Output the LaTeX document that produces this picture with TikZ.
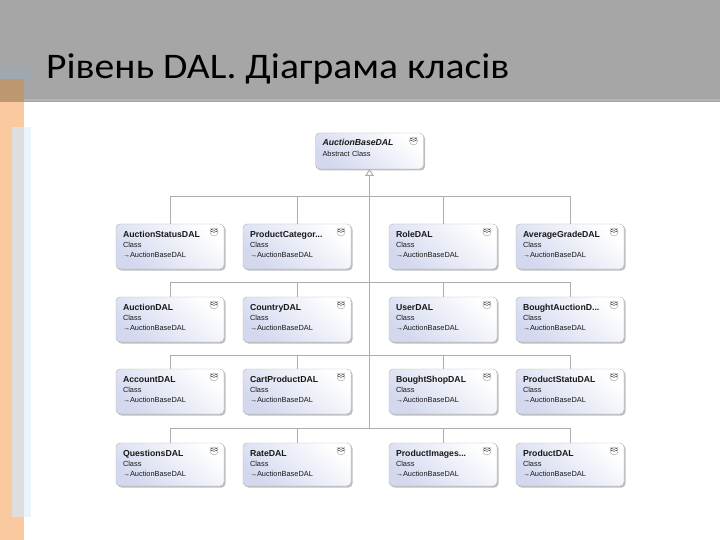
\documentclass[tikz,border=0pt]{standalone}
\usepackage{fontspec}
\setmainfont{Liberation Sans}
\newfontfamily\titlefont[FakeStretch=1.1]{Carlito}
\usetikzlibrary{positioning}
\usetikzlibrary{shadows, arrows.meta}
\definecolor{headergray}{HTML}{A6A6A6}
\definecolor{headerline}{HTML}{B4B4B4}
\definecolor{headerblue}{HTML}{A0A8AE}
\definecolor{bandorange}{HTML}{FAC9A0}
\definecolor{bandbrown}{HTML}{BC9770}
\definecolor{bandgray}{HTML}{DEDEDE}
\definecolor{bandblue}{HTML}{EAF4FB}
\definecolor{boxblue}{HTML}{D3D8EF}
\definecolor{busgray}{HTML}{ADADAD}
\newcommand{\classname}[1]{{\fontsize{8.7}{10}\selectfont\textbf{#1}}}
\newcommand{\baseref}{{\fontsize{7}{10}\selectfont→}AuctionBaseDAL}
\tikzstyle{classbox} = [draw=black!30, rounded corners=4pt, outer sep=0pt, inner xsep=7pt, inner ysep=4pt,
    text width=94pt, align=left, font=\fontsize{7.4}{10.3}\selectfont, text=black!90,
    text height=9pt, text depth=28pt,
    top color=white, bottom color=boxblue, shading angle=-40,
    drop shadow={shadow xshift=1.5pt, shadow yshift=-1.5pt, fill=black!50},
    path picture={
        \draw[black!40, fill=white] ([shift={(-14pt,-12pt)}]path picture bounding box.north east) rectangle ([shift={(-6pt,-4pt)}]path picture bounding box.north east);
        \draw[black!70, line width=0.5pt] ([shift={(-12pt,-6pt)}]path picture bounding box.north east) -- ([shift={(-10pt,-8pt)}]path picture bounding box.north east) -- ([shift={(-8pt,-6pt)}]path picture bounding box.north east);
        \draw[black!70, line width=0.5pt] ([shift={(-12pt,-8pt)}]path picture bounding box.north east) -- ([shift={(-10pt,-10pt)}]path picture bounding box.north east) -- ([shift={(-8pt,-8pt)}]path picture bounding box.north east);
    }]
\tikzstyle{bus} = [busgray, line width=1pt]
\tikzstyle{inherit} = [busgray, line width=1pt, -{Triangle[open, length=7pt, width=9pt]}]

\begin{document}
\begin{tikzpicture}[x=1pt, y=-1pt]
    \useasboundingbox (0,0) rectangle (720,540);

    % Slide background
    \fill[white] (0,0) rectangle (720,540);
    \fill[bandorange] (0,102) rectangle (24,540);
    \fill[bandgray] (12,127) rectangle (24,517);
    \fill[bandblue] (24,127) rectangle (31,517);
    \fill[headergray] (0,0) rectangle (720,102);
    \fill[headerline] (0,99) rectangle (720,101);
    \fill[headerblue] (0,65) rectangle (31,79);
    \fill[bandbrown] (0,79) rectangle (24,102);
    \node[anchor=base west, inner sep=0pt, font=\titlefont\fontsize{36}{36}\selectfont] (title) at (46,79) {Рівень DAL. Діаграма класів};

    % Nodes
    \node[classbox, text depth=19pt] (AuctionBase) at (369.5,151) {\classname{\textit{AuctionBaseDAL}}\\Abstract Class};

    \node[classbox] (AuctionStatus) at (170,246.5) {\classname{AuctionStatusDAL}\\Class\\\baseref};
    \node[classbox, right=19pt of AuctionStatus] (ProductCategory) {\classname{ProductCategor...}\\Class\\\baseref};
    \node[classbox, right=38pt of ProductCategory] (Role) {\classname{RoleDAL}\\Class\\\baseref};
    \node[classbox, right=19pt of Role] (AverageGrade) {\classname{AverageGradeDAL}\\Class\\\baseref};

    \node[classbox, below=28pt of AuctionStatus] (Auction) {\classname{AuctionDAL}\\Class\\\baseref};
    \node[classbox, below=28pt of ProductCategory] (Country) {\classname{CountryDAL}\\Class\\\baseref};
    \node[classbox, below=28pt of Role] (User) {\classname{UserDAL}\\Class\\\baseref};
    \node[classbox, below=28pt of AverageGrade] (BoughtAuction) {\classname{BoughtAuctionD...}\\Class\\\baseref};

    \node[classbox, below=27pt of Auction] (Account) {\classname{AccountDAL}\\Class\\\baseref};
    \node[classbox, below=27pt of Country] (CartProduct) {\classname{CartProductDAL}\\Class\\\baseref};
    \node[classbox, below=27pt of User] (BoughtShop) {\classname{BoughtShopDAL}\\Class\\\baseref};
    \node[classbox, below=27pt of BoughtAuction] (ProductStatu) {\classname{ProductStatuDAL}\\Class\\\baseref};

    \node[classbox, text depth=26pt, below=29pt of Account] (Questions) {\classname{QuestionsDAL}\\Class\\\baseref};
    \node[classbox, text depth=26pt, below=29pt of CartProduct] (Rate) {\classname{RateDAL}\\Class\\\baseref};
    \node[classbox, text depth=26pt, below=29pt of BoughtShop] (ProductImages) {\classname{ProductImages...}\\Class\\\baseref};
    \node[classbox, text depth=26pt, below=29pt of ProductStatu] (Product) {\classname{ProductDAL}\\Class\\\baseref};

    % Bus junctions on the trunk
    \coordinate (trunk1) at (369.5,196.5);
    \coordinate (trunk2) at (369.5,282);
    \coordinate (trunk3) at (369.5,355);
    \coordinate (trunk4) at (369.5,428);

    % Edges
    \draw[inherit] (trunk4) -- (trunk1) -- (AuctionBase.south);

    \draw[bus] (AuctionStatus.north) |- (trunk1);
    \draw[bus] (ProductCategory.north) |- (trunk1);
    \draw[bus] (Role.north) |- (trunk1);
    \draw[bus] (AverageGrade.north) |- (trunk1);

    \draw[bus] (Auction.north) |- (trunk2);
    \draw[bus] (Country.north) |- (trunk2);
    \draw[bus] (User.north) |- (trunk2);
    \draw[bus] (BoughtAuction.north) |- (trunk2);

    \draw[bus] (Account.north) |- (trunk3);
    \draw[bus] (CartProduct.north) |- (trunk3);
    \draw[bus] (BoughtShop.north) |- (trunk3);
    \draw[bus] (ProductStatu.north) |- (trunk3);

    \draw[bus] (Questions.north) |- (trunk4);
    \draw[bus] (Rate.north) |- (trunk4);
    \draw[bus] (ProductImages.north) |- (trunk4);
    \draw[bus] (Product.north) |- (trunk4);
\end{tikzpicture}
\end{document}
